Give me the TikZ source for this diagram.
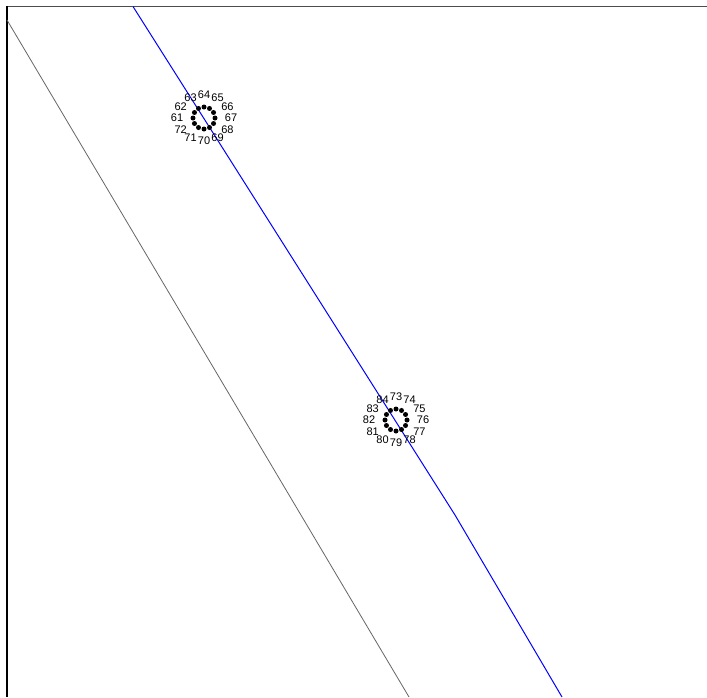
\documentclass[tikz,border=0pt]{standalone}
\usepackage{fontspec}
\setmainfont{Liberation Sans}
\usetikzlibrary{calc}
\begin{document}
\begin{tikzpicture}[x=1pt,y=-1pt,
  frameline/.style={line width=1.3pt,draw=black!70},
  leftline/.style={line width=1.2pt,draw=black},
  grayline/.style={line width=0.8pt,draw=black!60},
  blueline/.style={line width=1pt,draw=blue},
  dotnode/.style={circle,fill=black,inner sep=0pt,minimum size=5pt},
  numlabel/.style={inner sep=0pt,font=\fontsize{11}{12}\selectfont}]
\useasboundingbox (0,0) rectangle (707,697);
\fill[white] (0,0) rectangle (707,697);
% frame
\coordinate (tl) at (7,6.5);
\coordinate (tr) at (707,6.5);
\coordinate (bl) at (7,697);
\draw[frameline] (tl) -- (tr);
\draw[leftline] (7,6) -- (bl);
% gray line
\coordinate (g1) at (7,20);
\coordinate (g2) at (409,697);
\draw[grayline] (g1) -- (g2);
% blue line
\coordinate (b1) at (133,6.5);
\coordinate (b2) at (455,515);
\coordinate (b3) at (562,697);
\draw[blueline] (b1) -- (b2) -- (b3);
% cluster 1
\coordinate (c1) at (204,118);
\foreach \n in {61,...,72}{
  \pgfmathsetmacro{\ang}{90-(\n-64)*30}
  \node[dotnode] (d\n) at ($(c1)+(\ang:11 and -11)$) {};
  \node[numlabel] (l\n) at ($(c1)+(\ang:27 and -23)$) {\n};
}
% cluster 2
\coordinate (c2) at (396,420);
\foreach \n in {73,...,84}{
  \pgfmathsetmacro{\ang}{90-(\n-73)*30}
  \node[dotnode] (d\n) at ($(c2)+(\ang:11 and -11)$) {};
  \node[numlabel] (l\n) at ($(c2)+(\ang:27 and -23)$) {\n};
}
\end{tikzpicture}
\end{document}
